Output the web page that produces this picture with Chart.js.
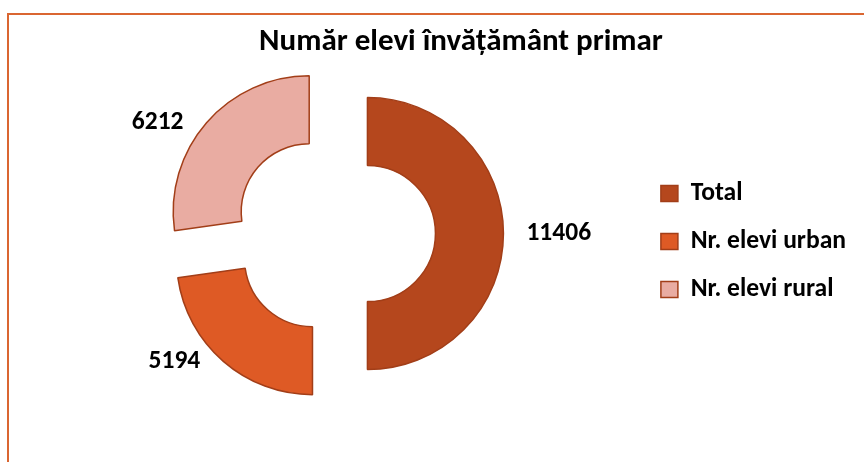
<!DOCTYPE html>
<html>
<head>
<meta charset="utf-8">
<script src="https://cdn.jsdelivr.net/npm/chart.js@4/dist/chart.umd.min.js"></script>
<style>
  html, body { margin: 0; padding: 0; background: #fff; overflow: hidden; }
  #frame {
    position: absolute; left: 7px; top: 13px; width: 1000px; height: 600px;
    border-top: 2px solid #DA6631; border-left: 2px solid #DA6631;
  }
  #wrap { position: absolute; left: 0; top: 0; width: 922px; height: 462px; }
</style>
</head>
<body>
<div id="frame"></div>
<div id="wrap"><canvas id="chart"></canvas></div>
<script>
const categories = ["Total", "Nr. elevi urban", "Nr. elevi rural"];
const values = [11406, 5194, 6212];
const colors = ["#B5471D", "#DE5A25", "#E9ACA2"];
const chartTitle = "Număr elevi învățământ primar";

const FONT = "Carlito, Lato, sans-serif";

// pull every slice away from the centre (like Excel's exploded doughnut)
const explode = {
  id: "explode",
  afterDatasetUpdate(chart, args, opts) {
    args.meta.data.forEach((arc) => {
      const mid = (arc.startAngle + arc.endAngle) / 2;
      const d = arc.outerRadius * opts.ratio;
      arc.x += Math.cos(mid) * d;
      arc.y += Math.sin(mid) * d;
    });
  },
};

// value labels just outside each slice
const sliceLabels = {
  id: "sliceLabels",
  afterDatasetsDraw(chart, args, opts) {
    const ctx = chart.ctx;
    const meta = chart.getDatasetMeta(0);
    ctx.save();
    ctx.font = opts.font;
    ctx.fillStyle = "#000";
    ctx.textBaseline = "middle";
    meta.data.forEach((arc, i) => {
      const mid = (arc.startAngle + arc.endAngle) / 2;
      const px = arc.x + Math.cos(mid) * arc.outerRadius;
      const py = arc.y + Math.sin(mid) * arc.outerRadius;
      const right = Math.cos(mid) >= 0;
      ctx.textAlign = right ? "left" : "right";
      ctx.fillText(String(chart.data.datasets[0].data[i]), px + (right ? opts.gap : -opts.gap), py);
    });
    ctx.restore();
  },
};

new Chart(document.getElementById("chart"), {
  type: "doughnut",
  data: {
    labels: categories,
    datasets: [
      {
        data: values,
        backgroundColor: colors,
        borderColor: "#A23E18",
        borderWidth: 1.5,
      },
    ],
  },
  plugins: [explode, sliceLabels],
  options: {
    responsive: true,
    maintainAspectRatio: false,
    animation: false,
    radius: 136,
    cutout: "50%",
    layout: { padding: { left: 30, right: 30, top: 0, bottom: 66 } },
    plugins: {
      explode: { ratio: 0.244 },
      sliceLabels: { font: "bold 25.5px " + FONT, gap: 23 },
      tooltip: { enabled: false },
      title: {
        display: true,
        text: chartTitle,
        color: "#000",
        font: { family: FONT, size: 31, weight: "bold" },
        padding: { top: 24, bottom: 10 },
      },
      // empty spacer on the right, outside the legend
      subtitle: {
        display: true,
        text: "",
        position: "right",
        font: { size: 1 },
        padding: { top: 18.4, bottom: 18.4 },
      },
      legend: {
        position: "right",
        title: { display: true, text: "", font: { size: 1 }, padding: { top: 86, bottom: 0 } },
        labels: {
          color: "#000",
          font: { family: FONT, size: 25.6, weight: "bold" },
          boxWidth: 17,
          boxHeight: 16,
          padding: 22.4,
        },
      },
    },
  },
});
</script>
</body>
</html>
